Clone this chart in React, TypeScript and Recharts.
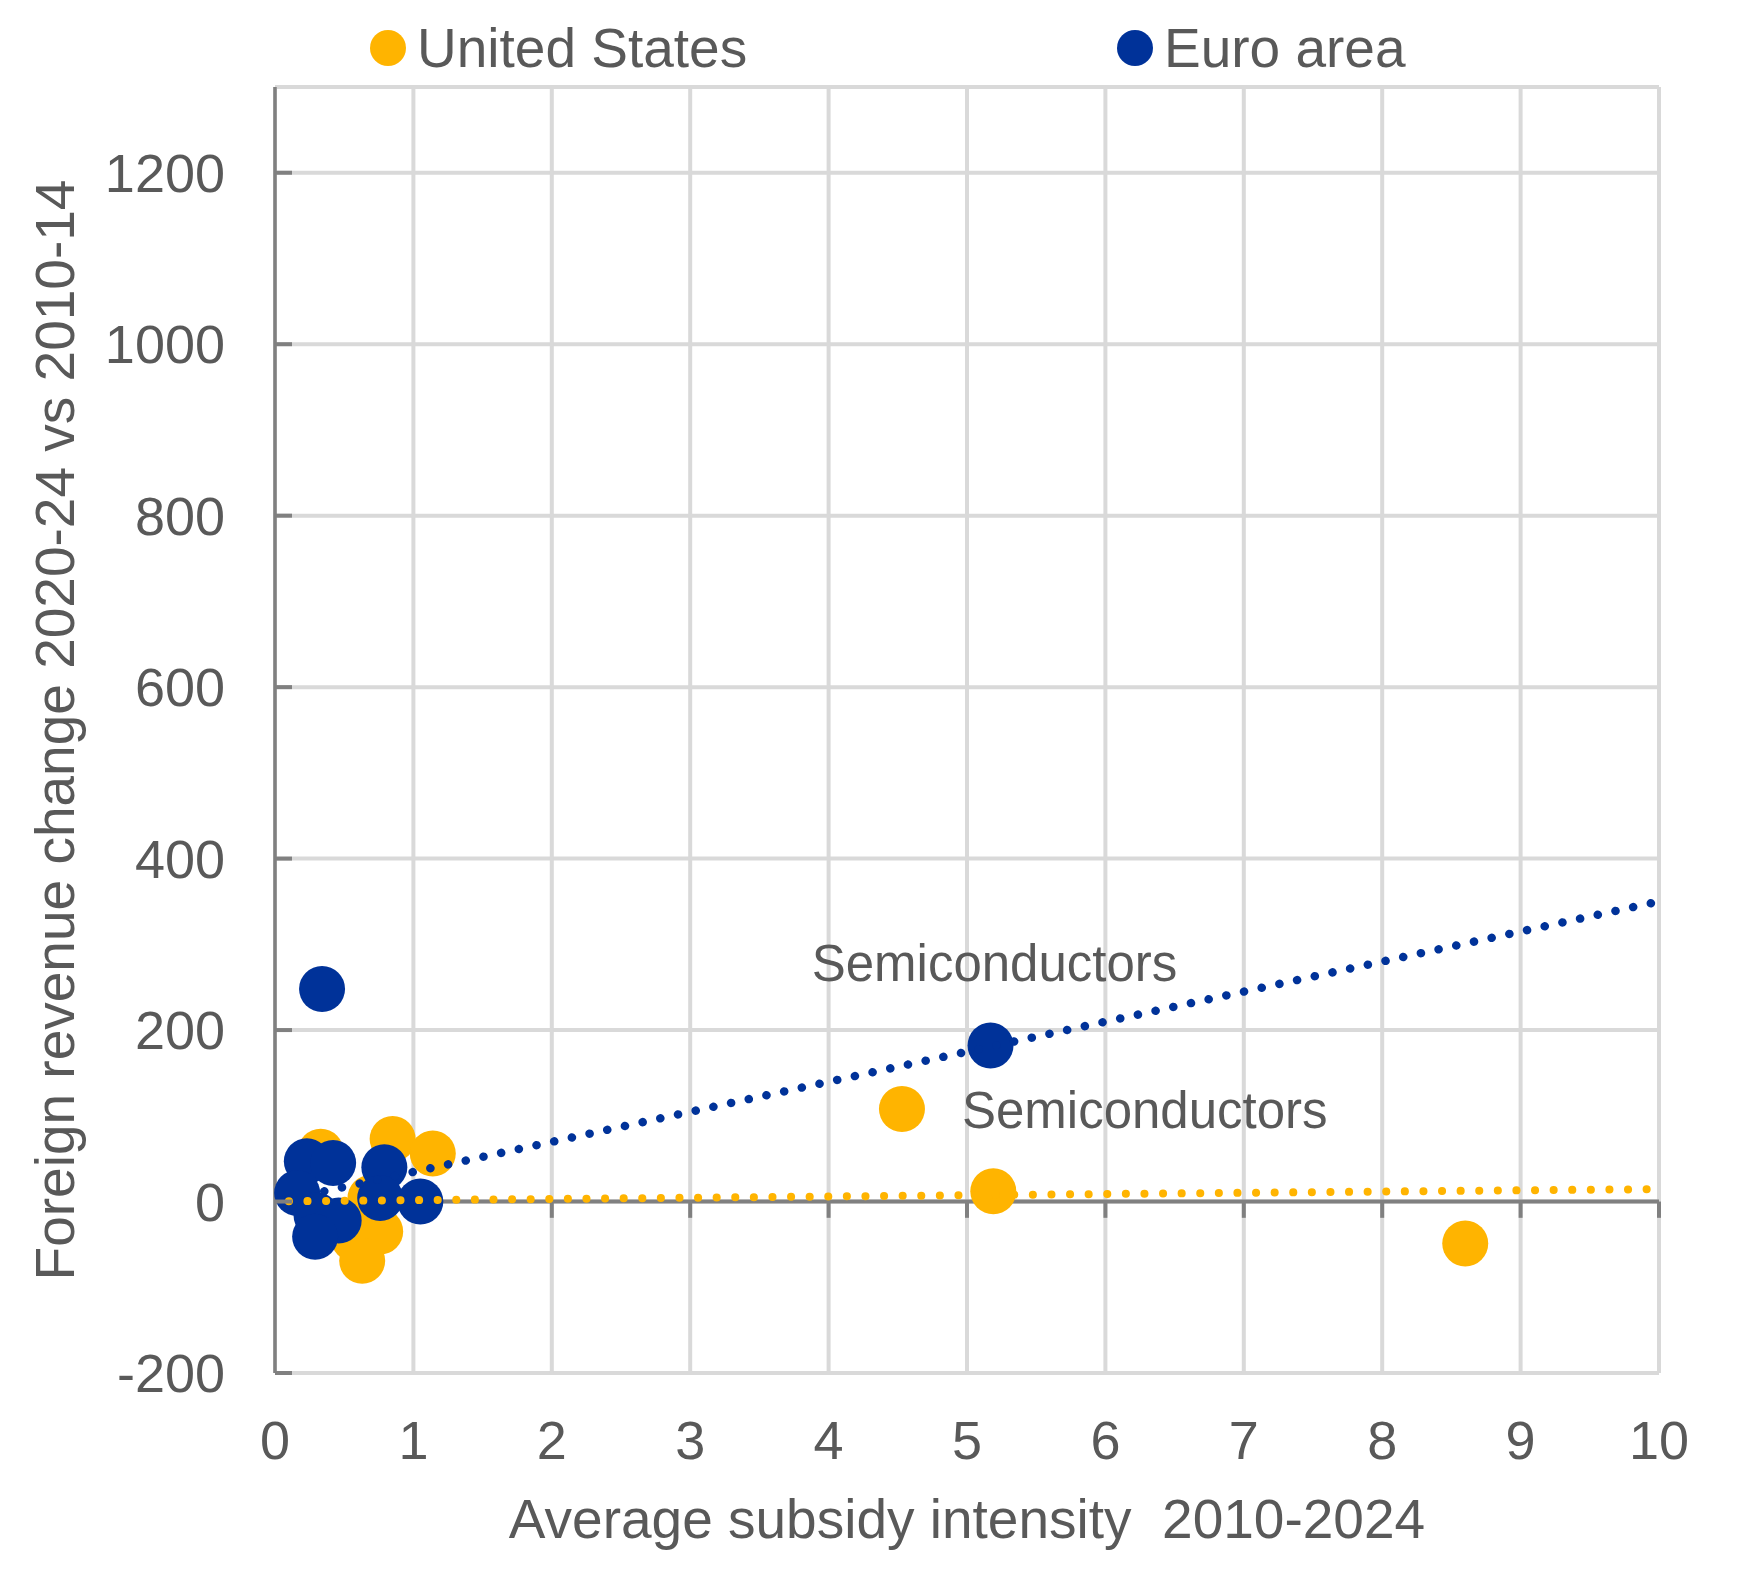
import {
  CartesianGrid,
  Label,
  LabelList,
  Legend,
  ReferenceLine,
  Scatter,
  ScatterChart,
  XAxis,
  YAxis,
} from 'recharts';

const US_COLOR = '#FFB400';
const EA_COLOR = '#003299';
const TEXT = '#595959';
const GRID = '#D9D9D9';
const AXIS = '#808080';
const FONT = '"Liberation Sans", Arial, sans-serif';

type Point = { x: number; y: number; label?: string };

const xTicks = [0, 1, 2, 3, 4, 5, 6, 7, 8, 9, 10];
const yTicks = [-200, 0, 200, 400, 600, 800, 1000, 1200];

// subsidy intensity vs foreign revenue change, by sector
const usPoints: Point[] = [
  { x: 0.33, y: 58 },
  { x: 0.85, y: 73 },
  { x: 1.14, y: 56 },
  { x: 0.69, y: 4 },
  { x: 0.57, y: -43 },
  { x: 0.76, y: -35 },
  { x: 0.63, y: -69 },
  { x: 4.53, y: 108, label: 'Semiconductors' },
  { x: 5.19, y: 12 },
  { x: 8.6, y: -49 },
];

const euroPoints: Point[] = [
  { x: 0.34, y: 248 },
  { x: 0.23, y: 47 },
  { x: 0.42, y: 45 },
  { x: 0.16, y: 10 },
  { x: 0.3, y: -16 },
  { x: 0.46, y: -22 },
  { x: 0.29, y: -41 },
  { x: 0.79, y: 40 },
  { x: 0.76, y: 4 },
  { x: 1.05, y: 0 },
  { x: 5.17, y: 182, label: 'Semiconductors' },
];

// linear trend lines
const usTrend: Point[] = [
  { x: 0.1, y: 0.3 },
  { x: 10, y: 14.5 },
];
const euroTrend: Point[] = [
  { x: 0.1, y: 3 },
  { x: 10, y: 350 },
];

const legendItems = [
  { name: 'United States', color: US_COLOR, left: 370 },
  { name: 'Euro area', color: EA_COLOR, left: 1117 },
];

function ChartLegend() {
  return (
    <div style={{ position: 'relative', width: 1760, height: 80 }}>
      {legendItems.map((item) => (
        <div
          key={item.name}
          style={{
            position: 'absolute',
            left: item.left,
            top: 18,
            height: 60,
            display: 'flex',
            alignItems: 'center',
            fontFamily: FONT,
            fontSize: 55,
            color: TEXT,
            whiteSpace: 'nowrap',
          }}
        >
          <span
            style={{
              display: 'inline-block',
              width: 36,
              height: 36,
              borderRadius: '50%',
              background: item.color,
              marginRight: 11,
            }}
          />
          {item.name}
        </div>
      ))}
    </div>
  );
}

function YTick(props: any) {
  const { x, y, payload } = props;
  const axisX = x + 50;
  return (
    <g>
      <line x1={axisX} x2={axisX + 17} y1={y} y2={y} stroke={AXIS} strokeWidth={4} />
      <text
        x={x}
        y={y}
        textAnchor="end"
        dominantBaseline="central"
        fill={TEXT}
        fontSize={54}
        fontFamily={FONT}
      >
        {payload.value}
      </text>
    </g>
  );
}

function Dot(props: any) {
  return <circle cx={props.cx} cy={props.cy} r={23} fill={props.fill} />;
}

function centerOf(props: any) {
  const box = props.viewBox ?? props;
  return { cx: box.x + (box.width ?? 0) / 2, cy: box.y + (box.height ?? 0) / 2 };
}

function UsLabel(props: any) {
  if (!props.value) return null;
  const { cx, cy } = centerOf(props);
  return (
    <text x={cx + 60} y={cy + 19} fill={TEXT} fontSize={51} fontFamily={FONT}>
      {props.value}
    </text>
  );
}

function EuroLabel(props: any) {
  if (!props.value) return null;
  const { cx, cy } = centerOf(props);
  return (
    <text x={cx + 4} y={cy - 64} textAnchor="middle" fill={TEXT} fontSize={51} fontFamily={FONT}>
      {props.value}
    </text>
  );
}

const noShape = () => <g />;

export default function App() {
  return (
    <div style={{ width: 1760, height: 1571, background: '#fff' }}>
      <style>{'body{margin:0}'}</style>
      <ScatterChart width={1760} height={1571} margin={{ top: 7, right: 101, bottom: 0, left: 0 }}>
        <CartesianGrid stroke={GRID} strokeWidth={4} />
        <XAxis
          type="number"
          dataKey="x"
          domain={[0, 10]}
          ticks={xTicks}
          interval={0}
          axisLine={false}
          tickLine={false}
          tickSize={0}
          tickMargin={48}
          height={198}
          tick={{ fill: TEXT, fontSize: 54, fontFamily: FONT }}
        >
          <Label
            content={() => (
              <text
                x={967}
                y={1538}
                textAnchor="middle"
                fill={TEXT}
                fontSize={55}
                fontFamily={FONT}
                style={{ whiteSpace: 'pre' }}
              >
                {'Average subsidy intensity  2010-2024'}
              </text>
            )}
          />
        </XAxis>
        <YAxis
          type="number"
          dataKey="y"
          domain={[-200, 1300]}
          ticks={yTicks}
          interval={0}
          width={275}
          axisLine={{ stroke: AXIS, strokeWidth: 3.5 }}
          tickLine={false}
          tickSize={0}
          tickMargin={50}
          tick={<YTick />}
        >
          <Label
            content={() => (
              <text
                x={74}
                y={730}
                transform="rotate(-90, 74, 730)"
                textAnchor="middle"
                fill={TEXT}
                fontSize={55}
                fontFamily={FONT}
              >
                Foreign revenue change 2020-24 vs 2010-14
              </text>
            )}
          />
        </YAxis>
        <Legend content={<ChartLegend />} verticalAlign="top" wrapperStyle={{ top: 0, left: 0 }} />
        <ReferenceLine y={1300} stroke={GRID} strokeWidth={4} />
        <ReferenceLine y={0} stroke={AXIS} strokeWidth={4} />
        {xTicks
          .filter((t) => t > 0)
          .map((t) => (
            <ReferenceLine
              key={`tick-${t}`}
              segment={[
                { x: t, y: 0 },
                { x: t, y: -19 },
              ]}
              stroke={AXIS}
              strokeWidth={4}
            />
          ))}
        <Scatter name="United States" data={usPoints} fill={US_COLOR} shape={<Dot />} isAnimationActive={false}>
          <LabelList dataKey="label" content={<UsLabel />} />
        </Scatter>
        <Scatter name="Euro area" data={euroPoints} fill={EA_COLOR} shape={<Dot />} isAnimationActive={false}>
          <LabelList dataKey="label" content={<EuroLabel />} />
        </Scatter>
        <Scatter
          name="Euro trend"
          data={euroTrend}
          line={{ stroke: EA_COLOR, strokeWidth: 8.5, strokeDasharray: '0.1 18', strokeLinecap: 'round' }}
          shape={noShape}
          legendType="none"
          isAnimationActive={false}
        />
        <Scatter
          name="US trend"
          data={usTrend}
          line={{ stroke: US_COLOR, strokeWidth: 8, strokeDasharray: '0.1 18.5', strokeLinecap: 'round' }}
          shape={noShape}
          legendType="none"
          isAnimationActive={false}
        />
      </ScatterChart>
    </div>
  );
}
